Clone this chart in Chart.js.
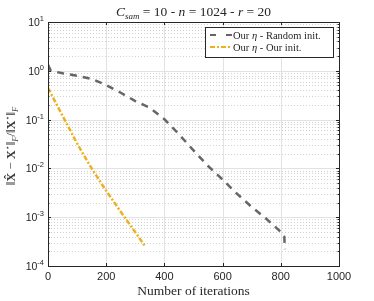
<!DOCTYPE html>
<html lang="en">
<head>
    <meta charset="UTF-8">
    <title>Relative error vs iterations</title>
    <script src="https://cdn.jsdelivr.net/npm/chart.js"></script>
    <style>
        body {
            margin: 0;
            background: #ffffff;
        }

        #chart {
            display: block;
        }
    </style>
</head>
<body>
    <canvas id="chart" width="374" height="301"></canvas>

    <script>
        // data
        const randIters = [0, 10, 50, 100, 150, 200, 250, 300, 350, 400, 450, 500, 550, 600, 650, 700, 750, 800, 812, 814];
        const randErr = [1.32, 1.0, 0.89, 0.79, 0.68, 0.51, 0.355, 0.24, 0.174, 0.102, 0.050, 0.0234, 0.0112, 0.0059, 0.0030, 0.00162, 0.00093, 0.0005, 0.0004, 0.00022];

        const ourIters = [0, 50, 100, 150, 200, 250, 300, 333];
        const ourErr = [0.447, 0.120, 0.0324, 0.0100, 0.00347, 0.00129, 0.00049, 0.000257];

        const xTicks = [0, 200, 400, 600, 800, 1000];
        const yExponents = [1, 0, -1, -2, -3, -4];

        const seriesNames = ['Our \u03b7 - Random init.', 'Our \u03b7 - Our init.'];

        const grayColor = '#666666';
        const yellowColor = '#EDB120';
        const axisColor = '#262626';

        function toPoints(xs, ys) {
            return xs.map((x, i) => ({ x: x, y: ys[i] }));
        }

        // draws text with a subscript / superscript part, returns the width used
        function drawParts(ctx, parts, x, y) {
            let cx = x;
            parts.forEach(p => {
                ctx.font = p.font;
                ctx.fillText(p.text, cx, y + (p.dy || 0));
                cx += ctx.measureText(p.text).width;
            });
            return cx - x;
        }

        function partsWidth(ctx, parts) {
            let w = 0;
            parts.forEach(p => {
                ctx.font = p.font;
                w += ctx.measureText(p.text).width;
            });
            return w;
        }

        const matlabAxes = {
            id: 'matlabAxes',
            beforeDatasetsDraw(chart) {
                const ctx = chart.ctx;
                const area = chart.chartArea;
                const xs = chart.scales.x;
                const ys = chart.scales.y;
                ctx.save();

                // minor dotted grid on the log axis
                ctx.strokeStyle = '#d2d2d2';
                ctx.lineWidth = 1;
                ctx.setLineDash([1, 2]);
                for (let e = -4; e < 1; e++) {
                    for (let m = 2; m <= 9; m++) {
                        const py = Math.round(ys.getPixelForValue(m * Math.pow(10, e))) + 0.5;
                        ctx.beginPath();
                        ctx.moveTo(area.left, py);
                        ctx.lineTo(area.right, py);
                        ctx.stroke();
                    }
                }

                // major solid grid
                ctx.setLineDash([]);
                ctx.strokeStyle = '#e2e2e2';
                yExponents.forEach(e => {
                    const py = Math.round(ys.getPixelForValue(Math.pow(10, e))) + 0.5;
                    ctx.beginPath();
                    ctx.moveTo(area.left, py);
                    ctx.lineTo(area.right, py);
                    ctx.stroke();
                });
                xTicks.forEach(v => {
                    const px = Math.round(xs.getPixelForValue(v)) + 0.5;
                    ctx.beginPath();
                    ctx.moveTo(px, area.top);
                    ctx.lineTo(px, area.bottom);
                    ctx.stroke();
                });
                ctx.restore();
            },
            afterDatasetsDraw(chart) {
                const ctx = chart.ctx;
                const area = chart.chartArea;
                const xs = chart.scales.x;
                const ys = chart.scales.y;
                ctx.save();

                // box
                ctx.strokeStyle = axisColor;
                ctx.lineWidth = 1;
                ctx.strokeRect(Math.round(area.left) + 0.5, Math.round(area.top) + 0.5,
                    Math.round(area.right - area.left), Math.round(area.bottom - area.top));

                // inward ticks
                ctx.beginPath();
                xTicks.forEach(v => {
                    const px = Math.round(xs.getPixelForValue(v)) + 0.5;
                    ctx.moveTo(px, area.bottom);
                    ctx.lineTo(px, area.bottom - 3);
                    ctx.moveTo(px, area.top);
                    ctx.lineTo(px, area.top + 3);
                });
                yExponents.forEach(e => {
                    const py = Math.round(ys.getPixelForValue(Math.pow(10, e))) + 0.5;
                    ctx.moveTo(area.left, py);
                    ctx.lineTo(area.left + 3, py);
                    ctx.moveTo(area.right, py);
                    ctx.lineTo(area.right - 3, py);
                });
                for (let e = -4; e < 1; e++) {
                    for (let m = 2; m <= 9; m++) {
                        const py = Math.round(ys.getPixelForValue(m * Math.pow(10, e))) + 0.5;
                        ctx.moveTo(area.left, py);
                        ctx.lineTo(area.left + 1.5, py);
                        ctx.moveTo(area.right, py);
                        ctx.lineTo(area.right - 1.5, py);
                    }
                }
                ctx.stroke();

                // tick labels
                ctx.fillStyle = axisColor;
                ctx.textBaseline = 'alphabetic';
                ctx.font = '11px "Liberation Sans", Arial, sans-serif';
                ctx.textAlign = 'center';
                xTicks.forEach(v => {
                    ctx.fillText(String(v), xs.getPixelForValue(v), area.bottom + 14);
                });

                ctx.textAlign = 'left';
                yExponents.forEach(e => {
                    const py = ys.getPixelForValue(Math.pow(10, e));
                    const parts = [
                        { text: '10', font: '10.5px "Liberation Sans", Arial, sans-serif', dy: 0 },
                        { text: String(e), font: '7.5px "Liberation Sans", Arial, sans-serif', dy: -5 }
                    ];
                    const w = partsWidth(ctx, parts);
                    drawParts(ctx, parts, area.left - 4 - w, py + 4);
                });

                // x axis title
                ctx.textAlign = 'center';
                ctx.font = '13.5px "Liberation Serif", "Times New Roman", serif';
                ctx.fillText('Number of iterations', (area.left + area.right) / 2, area.bottom + 29);

                // chart title
                ctx.textAlign = 'left';
                const it = 'italic 13.5px "Liberation Serif", serif';
                const rm = '13.5px "Liberation Serif", serif';
                const sub = 'italic 9px "Liberation Serif", serif';
                const titleParts = [
                    { text: 'C', font: it },
                    { text: 'sam', font: sub, dy: 3 },
                    { text: ' = 10 - ', font: rm },
                    { text: 'n', font: it },
                    { text: ' = 1024 - ', font: rm },
                    { text: 'r', font: it },
                    { text: ' = 20', font: rm }
                ];
                const tw = partsWidth(ctx, titleParts);
                drawParts(ctx, titleParts, (area.left + area.right) / 2 - tw / 2, 16);

                // y axis title (rotated)
                ctx.save();
                ctx.translate(15, (area.top + area.bottom) / 2 + 2);
                ctx.rotate(-Math.PI / 2);
                const yr = '12.5px "Liberation Serif", serif';
                const yb = 'bold 12.5px "Liberation Serif", serif';
                const ys8 = 'italic 8.5px "Liberation Serif", serif';
                const yParts = [
                    { text: '\u2016', font: yr },
                    { text: 'X\u0302', font: yb },
                    { text: ' \u2212 ', font: yr },
                    { text: 'X', font: yb },
                    { text: '\u22c6', font: '8px "DejaVu Sans", sans-serif', dy: -5 },
                    { text: '\u2016', font: yr },
                    { text: 'F', font: ys8, dy: 3 },
                    { text: '/', font: yr },
                    { text: '\u2016', font: yr },
                    { text: 'X', font: yb },
                    { text: '\u22c6', font: '8px "DejaVu Sans", sans-serif', dy: -5 },
                    { text: '\u2016', font: yr },
                    { text: 'F', font: ys8, dy: 3 }
                ];
                ctx.fillStyle = '#3a3a3a';
                const yw = partsWidth(ctx, yParts);
                drawParts(ctx, yParts, -yw / 2, 0);
                ctx.restore();

                // legend box
                const lx = 205, ly = 27, lw = 128, lh = 30;
                ctx.fillStyle = '#ffffff';
                ctx.fillRect(lx, ly, lw, lh);
                ctx.strokeStyle = axisColor;
                ctx.lineWidth = 1;
                ctx.strokeRect(lx + 0.5, ly + 0.5, lw, lh);

                const legendStyles = [
                    { color: grayColor, dash: [6, 10] },
                    { color: yellowColor, dash: [5, 2, 2, 2] }
                ];
                seriesNames.forEach((name, i) => {
                    const cy = ly + 8 + i * 12;
                    ctx.strokeStyle = legendStyles[i].color;
                    ctx.lineWidth = 2.2;
                    ctx.setLineDash(legendStyles[i].dash);
                    ctx.beginPath();
                    ctx.moveTo(lx + 5, cy);
                    ctx.lineTo(lx + 27, cy);
                    ctx.stroke();
                    ctx.setLineDash([]);
                    ctx.fillStyle = axisColor;
                    const lp = [
                        { text: name.split('\u03b7')[0], font: '10.5px "Liberation Serif", serif' },
                        { text: '\u03b7', font: 'italic 10.5px "Liberation Serif", serif' },
                        { text: name.split('\u03b7')[1], font: '10.5px "Liberation Serif", serif' }
                    ];
                    drawParts(ctx, lp, lx + 28, cy + 3.5);
                });

                ctx.restore();
            }
        };

        const ctx = document.getElementById('chart').getContext('2d');

        const chart = new Chart(ctx, {
            type: 'line',
            data: {
                datasets: [{
                    label: seriesNames[0],
                    data: toPoints(randIters, randErr),
                    borderColor: grayColor,
                    borderWidth: 2.5,
                    borderDash: [7, 6],
                    pointRadius: 0,
                    tension: 0,
                    fill: false
                }, {
                    label: seriesNames[1],
                    data: toPoints(ourIters, ourErr),
                    borderColor: yellowColor,
                    borderWidth: 2.5,
                    borderDash: [5, 2, 2, 2],
                    pointRadius: 0,
                    tension: 0,
                    fill: false
                }]
            },
            options: {
                responsive: false,
                devicePixelRatio: 1,
                animation: false,
                layout: {
                    padding: { left: 48, top: 22, right: 35, bottom: 35 }
                },
                plugins: {
                    legend: { display: false },
                    tooltip: { enabled: false }
                },
                scales: {
                    x: {
                        type: 'linear',
                        min: 0,
                        max: 1000,
                        display: false
                    },
                    y: {
                        type: 'logarithmic',
                        min: 1e-4,
                        max: 10,
                        display: false
                    }
                }
            },
            plugins: [matlabAxes]
        });
    </script>
</body>
</html>
